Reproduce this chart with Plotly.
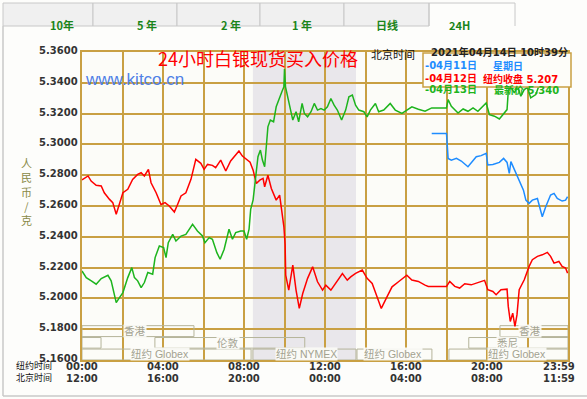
import plotly.graph_objects as go

# ---------------- data ----------------
red_hours = [0, 0.3, 0.45, 0.7, 0.95, 1.1, 1.36, 1.52, 1.69, 1.85, 2.02, 2.26, 2.5, 2.75, 2.92,
             3.08, 3.28, 3.41, 3.66, 3.9, 4.1, 4.31, 4.56, 4.72, 4.89, 5.13, 5.38, 5.62, 5.87,
             6.03, 6.2, 6.44, 6.6, 6.85, 7.1, 7.34, 7.54, 7.75, 7.92, 8.16, 8.3, 8.45, 8.61,
             8.78, 8.94, 9.02, 9.18, 9.35, 9.59, 9.76, 9.89, 9.97, 10.03, 10.06, 10.21, 10.41,
             10.57, 10.73, 10.9, 11.14, 11.39, 11.63, 11.88, 12.04, 12.29, 12.53, 12.86, 13.1,
             13.27, 13.51, 13.84, 14.08, 14.33, 14.57, 14.78, 15.06, 15.31, 15.63, 16.04, 16.29,
             16.61, 16.94, 17.1, 17.59, 18.0, 18.16, 18.41, 18.65, 18.9, 19.22, 19.55, 19.88,
             20.04, 20.29, 20.45, 20.69, 20.99, 21.05, 21.15, 21.27, 21.38, 21.48, 21.59, 21.84,
             22.08, 22.24, 22.49, 22.73, 22.98, 23.14, 23.31, 23.55, 23.71, 23.88, 23.98]
red_vals = [5.2769, 5.2795, 5.2762, 5.2734, 5.2730, 5.2686, 5.2643, 5.2622, 5.2546, 5.2610,
            5.2686, 5.2708, 5.2773, 5.2805, 5.2816, 5.2795, 5.2838, 5.2751, 5.2686, 5.2610,
            5.2622, 5.2600, 5.2561, 5.2610, 5.2665, 5.2686, 5.2773, 5.2903, 5.2877, 5.2838,
            5.2870, 5.2864, 5.2849, 5.2898, 5.2827, 5.2892, 5.2924, 5.2957, 5.2924, 5.2903,
            5.2885, 5.2833, 5.2746, 5.2768, 5.2779, 5.2725, 5.2800, 5.2714, 5.2638, 5.2671,
            5.2552, 5.2465, 5.2350, 5.2151, 5.2054, 5.2216, 5.2054, 5.1935, 5.2032, 5.2130,
            5.2205, 5.2108, 5.2054, 5.2086, 5.2054, 5.2097, 5.2162, 5.2119, 5.2140, 5.2162,
            5.2184, 5.2130, 5.2097, 5.2010, 5.1935, 5.2010, 5.2075, 5.2108, 5.2151, 5.2119,
            5.2110, 5.2086, 5.2078, 5.2078, 5.2078, 5.2110, 5.2078, 5.2067, 5.2095, 5.2088,
            5.2104, 5.2117, 5.2056, 5.2045, 5.2024, 5.2056, 5.2060, 5.1948, 5.1850, 5.1904,
            5.1818, 5.1893, 5.2056, 5.2121, 5.2208, 5.2251, 5.2273, 5.2283, 5.2299, 5.2273,
            5.2229, 5.2240, 5.2208, 5.2197, 5.2164]

green_hours = [0, 0.21, 0.46, 0.7, 0.95, 1.28, 1.44, 1.57, 1.69, 1.85, 2.02, 2.26, 2.46, 2.59,
               2.75, 2.92, 3.08, 3.25, 3.49, 3.61, 3.82, 4.03, 4.15, 4.26, 4.48, 4.64, 4.89,
               5.13, 5.46, 5.7, 5.95, 6.07, 6.28, 6.44, 6.66, 6.82, 7.02, 7.26, 7.43, 7.59,
               7.84, 8.0, 8.13, 8.25, 8.33, 8.45, 8.53, 8.69, 8.81, 8.91, 9.02, 9.1, 9.18, 9.3,
               9.46, 9.59, 9.76, 9.87, 9.97, 10.0, 10.05, 10.16, 10.28, 10.41, 10.57, 10.7,
               10.87, 10.98, 11.14, 11.31, 11.47, 11.63, 11.8, 11.96, 12.12, 12.29, 12.45,
               12.61, 12.82, 13.02, 13.18, 13.35, 13.51, 13.67, 13.92, 14.08, 14.24, 14.49,
               14.65, 14.9, 15.22, 15.47, 15.8, 16.04, 16.29, 16.61, 16.94, 17.27, 18.0, 18.08,
               18.24, 18.57, 18.82, 19.06, 19.31, 19.55, 19.8, 19.96, 20.12, 20.37, 20.61,
               20.86, 20.99, 21.05, 21.15, 21.35, 21.51, 21.67, 21.84, 22.0, 22.16, 22.41,
               22.52, 22.62]
green_vals = [5.2178, 5.2135, 5.2114, 5.2092, 5.2129, 5.2150, 5.2114, 5.2038, 5.1973, 5.2005,
              5.2038, 5.2135, 5.2200, 5.2135, 5.2114, 5.2070, 5.2103, 5.2168, 5.2157, 5.2265,
              5.2340, 5.2330, 5.2265, 5.2362, 5.2416, 5.2373, 5.2405, 5.2416, 5.2481, 5.2438,
              5.2405, 5.2362, 5.2395, 5.2384, 5.2297, 5.2254, 5.2319, 5.2449, 5.2384, 5.2427,
              5.2438, 5.2438, 5.2384, 5.2449, 5.2578, 5.2640, 5.2725, 5.2920, 5.2963, 5.2898,
              5.2855, 5.2963, 5.3114, 5.3158, 5.3147, 5.3244, 5.3309, 5.3342, 5.3374, 5.3490,
              5.3374, 5.3309, 5.3244, 5.3158, 5.3212, 5.3147, 5.3266, 5.3201, 5.3179, 5.3212,
              5.3266, 5.3223, 5.3233, 5.3223, 5.3244, 5.3298, 5.3255, 5.3223, 5.3158, 5.3223,
              5.3309, 5.3320, 5.3255, 5.3223, 5.3212, 5.3179, 5.3223, 5.3266, 5.3212, 5.3223,
              5.3266, 5.3223, 5.3201, 5.3223, 5.3244, 5.3228, 5.3215, 5.3237, 5.3237, 5.3291,
              5.3248, 5.3204, 5.3230, 5.3215, 5.3237, 5.3215, 5.3248, 5.3269, 5.3193, 5.3183,
              5.3165, 5.3204, 5.3226, 5.3345, 5.3378, 5.3334, 5.3378, 5.3313, 5.3356, 5.3370,
              5.3302, 5.3324, 5.3367, 5.3400]

blue_hours = [17.27, 18.0, 18.08, 18.24, 18.49, 18.73, 19.06, 19.22, 19.47, 19.71, 19.96,
              20.04, 20.29, 20.61, 20.82, 20.99, 21.1, 21.18, 21.35, 21.59, 21.8, 21.92,
              22.08, 22.24, 22.49, 22.62, 22.73, 22.9, 23.14, 23.31, 23.47, 23.71, 23.88, 23.98]
blue_vals = [5.3070, 5.3070, 5.2909, 5.2898, 5.2909, 5.2892, 5.2855, 5.2883, 5.2920, 5.2927,
             5.2942, 5.2866, 5.2870, 5.2883, 5.2909, 5.2883, 5.2812, 5.2888, 5.2834, 5.2768,
             5.2703, 5.2638, 5.2617, 5.2638, 5.2649, 5.2584, 5.2530, 5.2595, 5.2671, 5.2682,
             5.2649, 5.2632, 5.2638, 5.2660]

legend_dates = ["-04月11日", "-04月12日", "-04月13日"]
legend_notes = ["星期日", "纽约收盘", "最新价"]
legend_prices = ["", "5.207", "5.340"]

y_tick_vals = [5.16, 5.18, 5.20, 5.22, 5.24, 5.26, 5.28, 5.30, 5.32, 5.34, 5.36]
tick_hours = [0, 4, 8, 12, 16, 20, 24]
ny_tick_labels = ["00:00", "04:00", "08:00", "12:00", "16:00", "20:00", "23:59"]
bj_tick_labels = ["12:00", "16:00", "20:00", "00:00", "04:00", "08:00", "11:59"]
y_title = "人民币/克"

tab_labels = ["10年", "5 年", "2 年", "1 年", "日线", "24H"]

# sessions: name, start hour, end hour, row, label hour
sessions = [("香港", 0.0, 5.53, 0, 2.6), ("香港", 20.64, 24.0, 0, 22.1),
            ("", 0.0, 0.94, 1, None), ("伦敦", 3.6, 11.0, 1, 7.2), ("悉尼", 19.1, 24.0, 1, 21.0),
            ("纽约 Globex", 0.0, 8.35, 2, 3.85), ("纽约 NYMEX", 8.44, 13.53, 2, 11.1),
            ("纽约 Globex", 13.58, 17.28, 2, 15.36), ("纽约 Globex", 18.12, 24.0, 2, 21.5)]
nymex_start, nymex_end = 8.44, 13.53

# ---------------- styling / layout ----------------
W, H = 587, 399
PL, PR, PT, PB = 82, 568, 52, 360
GOLD = "#c9a043"
NUM = "DejaVu Sans, Noto Sans CJK SC"
CJK = "Noto Sans CJK SC"
colors = ["#1e8cff", "#ff0000", "#1db41d"]


def fx(p):
    return (p - PL) / (PR - PL)


def fy(p):
    return (PB - p) / (PB - PT)


fig = go.Figure()
for hrs, vals, col in [(red_hours, red_vals, colors[1]),
                       (green_hours, green_vals, colors[2]),
                       (blue_hours, blue_vals, colors[0])]:
    fig.add_trace(go.Scatter(x=hrs, y=vals, mode="lines",
                             line=dict(color=col, width=1.5), hoverinfo="skip"))

shapes = []
# NYMEX shading
shapes.append(dict(type="rect", xref="x", yref="y", x0=nymex_start, x1=nymex_end,
                   y0=5.16, y1=5.36, fillcolor="#e9e7eb", line=dict(width=0), layer="below"))

row_y = [(5.1752, 5.1823, 5.1787), (5.1677, 5.1746, 5.1711), (5.1600, 5.1671, 5.1636)]
annotations = []
for name, s, e, r, lh in sessions:
    y0, y1, yc = row_y[r]
    shapes.append(dict(type="rect", xref="x", yref="y", x0=s, x1=e, y0=y0, y1=y1,
                       line=dict(color="#b5b49a", width=1), fillcolor="rgba(0,0,0,0)",
                       layer="between"))
    if name:
        annotations.append(dict(x=lh, y=yc, xref="x", yref="y", text=name, showarrow=False,
                                font=dict(family="Liberation Sans, Noto Sans CJK SC", size=10.5,
                                          color="#a3a290"),
                                bgcolor="rgba(252,252,248,0.9)", borderpad=0))

# legend box
shapes.append(dict(type="rect", xref="paper", yref="paper", x0=fx(423), x1=fx(571),
                   y0=fy(87), y1=fy(53), fillcolor="#fdfdf9", line=dict(color=GOLD, width=1.5),
                   layer="above"))

# tabs
tab_edges = [3, 93, 177, 260, 344, 429, 515]
for i in range(len(tab_labels)):
    a, b = tab_edges[i], tab_edges[i + 1]
    if i < len(tab_labels) - 1:
        shapes.append(dict(type="rect", xref="paper", yref="paper", x0=fx(a), x1=fx(b),
                           y0=fy(26), y1=fy(3), fillcolor="#f0f0f0",
                           line=dict(color="#c8c8c8", width=1), layer="above"))
    else:
        shapes.append(dict(type="path", xref="paper", yref="paper",
                           path=f"M {fx(a)},{fy(26)} L {fx(a)},{fy(3)} L {fx(b)},{fy(3)} L {fx(b)},{fy(26)}",
                           line=dict(color="#c8c8c8", width=1), layer="above"))
    annotations.append(dict(x=fx((a + b) / 2), y=fy(15), xref="paper", yref="paper",
                            text=tab_labels[i], showarrow=False,
                            font=dict(family=CJK, size=11, color="#1a851a", weight="bold")))

# page frame
shapes.append(dict(type="line", xref="paper", yref="paper", x0=fx(3), x1=fx(3),
                   y0=fy(26), y1=fy(396), line=dict(color="#c8c8c8", width=1.5), layer="above"))
shapes.append(dict(type="line", xref="paper", yref="paper", x0=fx(3), x1=fx(587),
                   y0=fy(396), y1=fy(396), line=dict(color="#c8c8c8", width=1.5), layer="above"))

# title and header texts
annotations.append(dict(x=fx(258), y=fy(43), xref="paper", yref="paper",
                        text="24小时白银现货买入价格", showarrow=False,
                        font=dict(family=CJK, size=18, color="#ff0000")))
annotations.append(dict(x=fx(369), y=fy(44), xref="paper", yref="paper", xanchor="left",
                        text="北京时间", showarrow=False,
                        font=dict(family=CJK, size=11, color="#111111")))
annotations.append(dict(x=fx(429), y=fy(44), xref="paper", yref="paper", xanchor="left",
                        text="2021年04月14日 10时39分", showarrow=False,
                        font=dict(family=NUM, size=10, color="#222222", weight="bold")))
annotations.append(dict(x=fx(83), y=fy(68), xref="paper", yref="paper", xanchor="left",
                        text="www.kitco.cn", showarrow=False,
                        font=dict(family="Liberation Sans", size=17, color="#4f80e6")))

# legend texts
leg_y = [58, 70.5, 82]
note_x = [491, 481, 492]
for i in range(3):
    annotations.append(dict(x=fx(423), y=fy(leg_y[i]), xref="paper", yref="paper",
                            xanchor="left", text=legend_dates[i], showarrow=False,
                            font=dict(family=NUM, size=10, color=colors[i], weight="bold")))
    annotations.append(dict(x=fx(note_x[i]), y=fy(leg_y[i]), xref="paper", yref="paper",
                            xanchor="left",
                            text=legend_notes[i] + (" " + legend_prices[i] if legend_prices[i] else ""),
                            showarrow=False,
                            font=dict(family=NUM, size=10, color=colors[i], weight="bold")))

# y-axis title (vertical stacked characters, one text)
annotations.append(dict(x=fx(20), y=fy(191), xref="paper", yref="paper",
                        text="<br>".join(y_title), showarrow=False, borderpad=0,
                        font=dict(family=CJK, size=11, color="#8a8a48")))

# y tick labels (placed on the y scale)
for v in y_tick_vals:
    annotations.append(dict(x=fx(79), y=v, xref="paper", yref="y", xanchor="right",
                            text=f"{v:.4f}", showarrow=False, borderpad=0, yshift=1.5,
                            font=dict(family=NUM, size=10, color="#333333", weight="bold")))

# bottom time labels
row1, row2 = 373, 384.5
annotations.append(dict(x=fx(15), y=fy(row1), xref="paper", yref="paper", xanchor="left",
                        text="纽约时间", showarrow=False, borderpad=0,
                        font=dict(family=CJK, size=9, color="#111111")))
annotations.append(dict(x=fx(15), y=fy(row2), xref="paper", yref="paper", xanchor="left",
                        text="北京时间", showarrow=False, borderpad=0,
                        font=dict(family=CJK, size=9, color="#111111")))
for i, hr in enumerate(tick_hours):
    last = i == len(tick_hours) - 1
    for lab, yy in [(ny_tick_labels[i], row1), (bj_tick_labels[i], row2)]:
        annotations.append(dict(x=hr, y=fy(yy), xref="x", yref="paper",
                                xanchor="right" if last else "center",
                                xshift=8 if last else 0, borderpad=0,
                                text=lab, showarrow=False,
                                font=dict(family=NUM, size=10, color="#333333", weight="bold")))

fig.update_layout(
    width=W, height=H,
    margin=dict(l=PL, r=W - PR, t=PT, b=H - PB, pad=0),
    paper_bgcolor="#fdfdfb", plot_bgcolor="#fcfcf8",
    showlegend=False,
    shapes=shapes, annotations=annotations,
    xaxis=dict(range=[0, 24], tickvals=[0, 2, 4, 6, 8, 10, 12, 14, 16, 18, 20, 22, 24],
               showticklabels=False, showgrid=True, gridcolor=GOLD, gridwidth=1.5,
               zeroline=False, showline=True, linecolor=GOLD, linewidth=1.5, mirror=True,
               fixedrange=True),
    yaxis=dict(range=[5.16, 5.36], tickvals=y_tick_vals, showticklabels=False,
               showgrid=True, gridcolor=GOLD, gridwidth=1.5, zeroline=False,
               showline=True, linecolor=GOLD, linewidth=1.5, mirror=True, ticks="",
               fixedrange=True),
)

fig.write_html("out.html", config={"displayModeBar": False},
               post_script="document.body.style.margin='0';document.body.style.overflow='hidden';")
